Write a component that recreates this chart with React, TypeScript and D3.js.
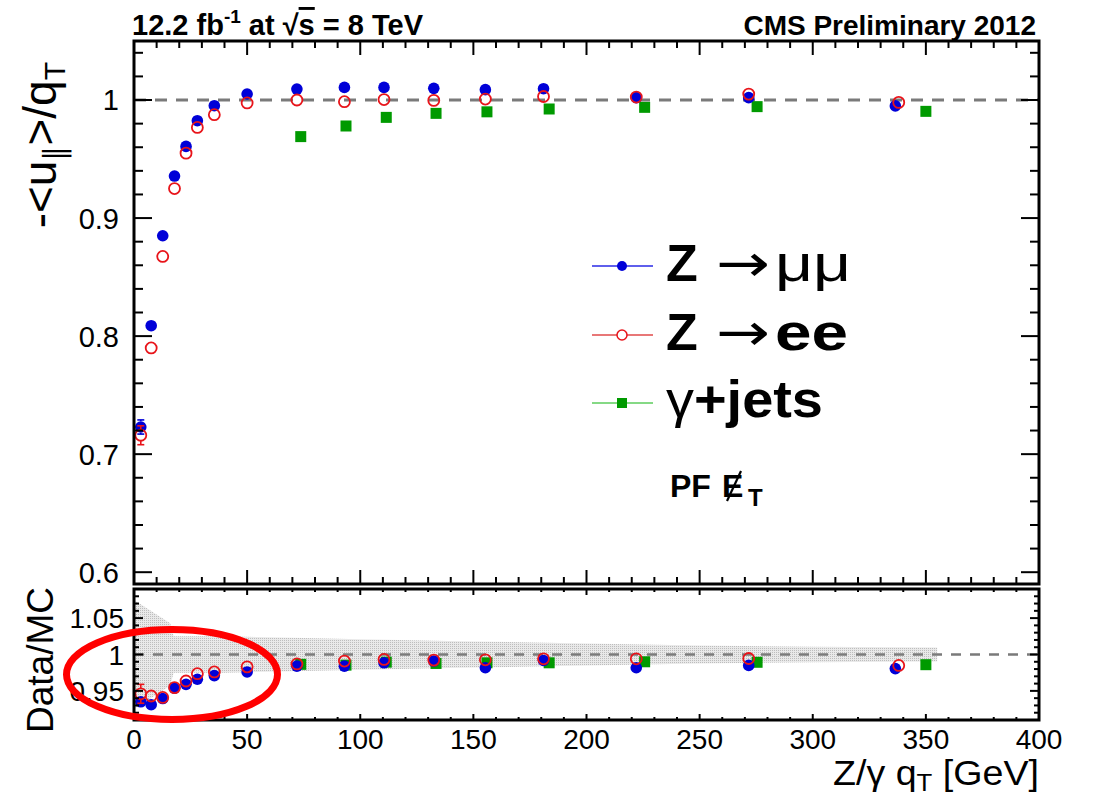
import React from "react";
import * as d3 from "d3";

// ---- data -------------------------------------------------------------
// q_T bin centres [GeV] for the Z samples and the photon sample
const zQt = [3, 7.6, 12.7, 17.9, 23, 28, 35.5, 50, 72, 93, 110.5, 132.5, 155.3, 181, 222, 271.7, 336.5];
const eeQt = [3, 7.6, 12.7, 17.9, 23, 28, 35.5, 50, 72, 93, 110.5, 132.5, 155.3, 181, 222, 271.7, 338];
const gQt = [73.7, 93.7, 111.5, 133.5, 156, 183.5, 225.7, 275.4, 350];

// response -<u_par>/q_T
const respMuMu = [0.723, 0.8088, 0.885, 0.9356, 0.9607, 0.9825, 0.9952, 1.0051, 1.0093, 1.0107, 1.0107, 1.0099, 1.0088, 1.0096, 1.002, 1.002, 0.995];
const respMuMuErr = [0.006, 0.002, 0.0015, 0.001, 0.001, 0.001, 0.001, 0.001, 0.001, 0.001, 0.001, 0.001, 0.001, 0.001, 0.002, 0.002, 0.003];
const respEE = [0.716, 0.79, 0.8675, 0.925, 0.955, 0.9768, 0.9876, 0.9975, 1.0, 0.9986, 1.0004, 0.9997, 1.0008, 1.003, 1.0025, 1.005, 0.998];
const respEEErr = [0.008, 0.003, 0.002, 0.0015, 0.001, 0.001, 0.001, 0.001, 0.001, 0.001, 0.001, 0.001, 0.001, 0.002, 0.002, 0.003, 0.003];
const respGamma = [0.969, 0.978, 0.9853, 0.9887, 0.99, 0.9924, 0.9938, 0.9944, 0.9904];

// data / MC ratios
const ratioMuMu = [0.935, 0.931, 0.9395, 0.9536, 0.959, 0.966, 0.971, 0.976, 0.984, 0.984, 0.9886, 0.991, 0.9818, 0.9918, 0.9818, 0.985, 0.9806];
const ratioMuMuErr = [0.008, 0.003, 0.002, 0.002, 0.002, 0.002, 0.002, 0.002, 0.002, 0.002, 0.002, 0.002, 0.002, 0.002, 0.002, 0.002, 0.003];
const ratioEE = [0.946, 0.943, 0.941, 0.9545, 0.9636, 0.9736, 0.976, 0.983, 0.987, 0.991, 0.9932, 0.9923, 0.9927, 0.9941, 0.9941, 0.9945, 0.985];
const ratioEEErr = [0.013, 0.004, 0.003, 0.002, 0.002, 0.002, 0.002, 0.002, 0.002, 0.002, 0.002, 0.002, 0.002, 0.002, 0.002, 0.002, 0.003];
const ratioGamma = [0.9865, 0.9854, 0.9895, 0.9877, 0.9886, 0.9886, 0.99, 0.9893, 0.986];

// systematic band around unity: q_T [GeV] and half-width
const bandQt = [0, 16, 17.5, 40, 70, 100, 150, 200, 250, 300, 355];
const bandHalf = [0.075, 0.043, 0.025, 0.025, 0.023, 0.021, 0.018, 0.015, 0.0125, 0.0105, 0.0095];

// axis labels
const xTickLabels = ["0", "50", "100", "150", "200", "250", "300", "350", "400"];
const topTickLabels = ["0.6", "0.7", "0.8", "0.9", "1"];
const ratioTickLabels = ["0.95", "1", "1.05"];

// ---- layout ------------------------------------------------------------
const W = 1101;
const H = 797;
const left = 134;
const right = 1039;
const topY0 = 41;
const topY1 = 584;
const botY0 = 589;
const botY1 = 720;

const FONT = "'Liberation Sans', Arial, Helvetica, sans-serif";
const BLUE = "#0000d8";
const RED = "#e8141a";
const GREEN = "#009a00";
const R = 5.8;

const x = d3.scaleLinear().domain([0, 400]).range([left, right]);
const yTop = d3.scaleLinear().domain([0.59, 1.05]).range([topY1, topY0]);
const yBot = d3.scaleLinear().domain([0.91, 1.09]).range([botY1, botY0]);

const isMultiple = (v: number, step: number) => Math.abs(v / step - Math.round(v / step)) < 1e-6;

function Frame({ y, y0, y1, yStep, yMajor, xMaj, xMin, yMaj, yMin }: any) {
  const xTicks = d3.range(0, 401, 10);
  const [d0, d1] = y.domain();
  const yTicks = d3
    .range(Math.ceil(d0 / yStep - 1e-6), Math.floor(d1 / yStep + 1e-6) + 1)
    .map((k: number) => k * yStep);
  return (
    <g stroke="#000">
      {xTicks.map((t: number) => {
        const len = isMultiple(t, 50) ? xMaj : xMin;
        return (
          <g key={"x" + t} strokeWidth={2}>
            <line x1={x(t)} x2={x(t)} y1={y1} y2={y1 - len} />
            <line x1={x(t)} x2={x(t)} y1={y0} y2={y0 + len} />
          </g>
        );
      })}
      {yTicks.map((t: number) => {
        const len = isMultiple(t, yMajor) ? yMaj : yMin;
        return (
          <g key={"y" + t} strokeWidth={2}>
            <line x1={left} x2={left + len} y1={y(t)} y2={y(t)} />
            <line x1={right} x2={right - len} y1={y(t)} y2={y(t)} />
          </g>
        );
      })}
      <rect x={left} y={y0} width={right - left} height={y1 - y0} fill="none" strokeWidth={3} />
    </g>
  );
}

// error bars are only drawn where they stick out of the marker
function ErrorBars({ xs, ys, errs, y, color }: any) {
  return (
    <g stroke={color} strokeWidth={1.6}>
      {xs.map((q: number, i: number) => {
        const cx = x(q);
        const cy = y(ys[i]);
        const up = y(ys[i] + errs[i]);
        const dn = y(ys[i] - errs[i]);
        if (cy - up <= R + 1) return null;
        return (
          <g key={i}>
            <line x1={cx} x2={cx} y1={cy - R} y2={up} />
            <line x1={cx} x2={cx} y1={cy + R} y2={dn} />
            <line x1={cx - 3.5} x2={cx + 3.5} y1={up} y2={up} />
            <line x1={cx - 3.5} x2={cx + 3.5} y1={dn} y2={dn} />
          </g>
        );
      })}
    </g>
  );
}

function Points({ xs, ys, y, kind }: any) {
  return (
    <g>
      {xs.map((q: number, i: number) => {
        if (kind === "filled") return <circle key={i} cx={x(q)} cy={y(ys[i])} r={R} fill={BLUE} />;
        if (kind === "open")
          return <circle key={i} cx={x(q)} cy={y(ys[i])} r={R - 0.3} fill="none" stroke={RED} strokeWidth={1.8} />;
        return <rect key={i} x={x(q) - 5.5} y={y(ys[i]) - 5.5} width={11} height={11} fill={GREEN} />;
      })}
    </g>
  );
}

export default function App() {
  const bandArea = d3
    .area<number>()
    .x((_, i) => x(bandQt[i]))
    .y0((h) => yBot(1 - h))
    .y1((h) => yBot(1 + h))
    .curve(d3.curveLinear);

  const legendRows = [
    { y: 266, color: "#2a2ae6", marker: "filled" },
    { y: 335, color: "#e04a4a", marker: "open" },
    { y: 403, color: "#5ccc5c", marker: "square" },
  ];

  return (
    <svg
      width={W}
      height={H}
      viewBox={`0 0 ${W} ${H}`}
      style={{ position: "absolute", left: 0, top: 0, display: "block", background: "#fff" }}
      fontFamily={FONT}
    >
      <defs>
        <pattern id="dots" width={2} height={2} patternUnits="userSpaceOnUse">
          <rect width={2} height={2} fill="#e9e9e9" />
          <rect width={1} height={1} fill="#bdbdbd" />
        </pattern>
        <clipPath id="botClip">
          <rect x={left} y={botY0} width={right - left} height={botY1 - botY0} />
        </clipPath>
      </defs>

      {/* ---------- upper pad: response ---------- */}
      <line x1={left} x2={right} y1={yTop(1)} y2={yTop(1)} stroke="#7a7a7a" strokeWidth={3} strokeDasharray="12 9" />
      <Points xs={gQt} ys={respGamma} y={yTop} kind="square" />
      <ErrorBars xs={zQt} ys={respMuMu} errs={respMuMuErr} y={yTop} color={BLUE} />
      <Points xs={zQt} ys={respMuMu} y={yTop} kind="filled" />
      <ErrorBars xs={eeQt} ys={respEE} errs={respEEErr} y={yTop} color={RED} />
      <Points xs={eeQt} ys={respEE} y={yTop} kind="open" />
      <Frame y={yTop} y0={topY0} y1={topY1} yStep={0.02} yMajor={0.1} xMaj={14} xMin={7} yMaj={18} yMin={9} />
      {topTickLabels.map((t) => (
        <text key={t} x={left - 15} y={yTop(+t)} dy="0.36em" textAnchor="end" fontSize={29}>
          {t}
        </text>
      ))}
      <text transform={`translate(56,${topY0 + 21}) rotate(-90)`} textAnchor="end" fontSize={46}>
        -&lt;u
        <tspan fontSize={30} dy={9}>∥</tspan>
        <tspan dy={-9}>&gt;/q</tspan>
        <tspan fontSize={30} dy={9}>T</tspan>
      </text>

      {/* header texts */}
      <text x={132} y={35} fontSize={29} fontWeight="bold">
        12.2 fb
        <tspan fontSize={19} dy={-12}>-1</tspan>
        <tspan dy={12}> at </tspan>
        <tspan>√</tspan>
        <tspan textDecoration="overline">s</tspan>
        <tspan> = 8 TeV</tspan>
      </text>
      <text x={1036} y={35} fontSize={28} fontWeight="bold" textAnchor="end">
        CMS Preliminary 2012
      </text>

      {/* legend */}
      {legendRows.map((r, i) => (
        <g key={i}>
          <line x1={592} x2={653} y1={r.y} y2={r.y} stroke={r.color} strokeWidth={1.6} />
          {r.marker === "filled" && <circle cx={622} cy={r.y} r={5} fill={BLUE} />}
          {r.marker === "open" && <circle cx={622} cy={r.y} r={5} fill="#fff" stroke={RED} strokeWidth={1.5} />}
          {r.marker === "square" && <rect x={617} y={r.y - 5} width={10} height={10} fill={GREEN} />}
        </g>
      ))}
      <text x={666} y={281} fontSize={52} fontWeight="bold">Z</text>
      <text x={716} y={281} fontSize={52} fontFamily="'DejaVu Sans', sans-serif" textLength={54} lengthAdjust="spacingAndGlyphs">→</text>
      <text x={775} y={281} fontSize={52} textLength={76} lengthAdjust="spacingAndGlyphs">μμ</text>
      <text x={666} y={350} fontSize={52} fontWeight="bold">Z</text>
      <text x={716} y={350} fontSize={52} fontFamily="'DejaVu Sans', sans-serif" textLength={54} lengthAdjust="spacingAndGlyphs">→</text>
      <text x={775} y={350} fontSize={52} fontWeight="bold" textLength={73} lengthAdjust="spacingAndGlyphs">ee</text>
      <text x={666} y={417} fontSize={52} textLength={157} lengthAdjust="spacingAndGlyphs">
        <tspan>γ</tspan>
        <tspan fontWeight="bold">+jets</tspan>
      </text>
      <text x={670} y={497} fontSize={32} fontWeight="bold">PF</text>
      <text x={722} y={497} fontSize={32} fontWeight="bold">E</text>
      <line x1={727} y1={501} x2={741} y2={471} stroke="#000" strokeWidth={2.2} />
      <text x={748} y={506} fontSize={24} fontWeight="bold">T</text>

      {/* ---------- lower pad: data / MC ---------- */}
      <path d={bandArea(bandHalf) || ""} fill="url(#dots)" clipPath="url(#botClip)" />
      <line x1={left} x2={right} y1={yBot(1)} y2={yBot(1)} stroke="#7a7a7a" strokeWidth={2.5} strokeDasharray="10 9" />
      <Points xs={gQt} ys={ratioGamma} y={yBot} kind="square" />
      <ErrorBars xs={zQt} ys={ratioMuMu} errs={ratioMuMuErr} y={yBot} color={BLUE} />
      <Points xs={zQt} ys={ratioMuMu} y={yBot} kind="filled" />
      <ErrorBars xs={eeQt} ys={ratioEE} errs={ratioEEErr} y={yBot} color={RED} />
      <Points xs={eeQt} ys={ratioEE} y={yBot} kind="open" />
      <Frame y={yBot} y0={botY0} y1={botY1} yStep={0.01} yMajor={0.05} xMaj={6} xMin={3} yMaj={9} yMin={5} />
      {ratioTickLabels.map((t) => (
        <text key={t} x={left - 10} y={yBot(+t)} dy="0.36em" textAnchor="end" fontSize={28}>
          {t}
        </text>
      ))}
      {xTickLabels.map((t) => (
        <text key={t} x={x(+t)} y={749} textAnchor="middle" fontSize={28}>
          {t}
        </text>
      ))}
      <text transform={`translate(53,${botY0 - 2}) rotate(-90)`} textAnchor="end" fontSize={37}>
        Data/MC
      </text>
      <text x={right} y={785} textAnchor="end" fontSize={35} textLength={206} lengthAdjust="spacingAndGlyphs">
        Z/γ q<tspan fontSize={24} dy={6}>T</tspan>
        <tspan dy={-6}> [GeV]</tspan>
      </text>

      {/* highlight of the low-q_T region */}
      <ellipse cx={172} cy={674.5} rx={105.5} ry={45} fill="none" stroke="#ff0000" strokeWidth={7} />
    </svg>
  );
}
